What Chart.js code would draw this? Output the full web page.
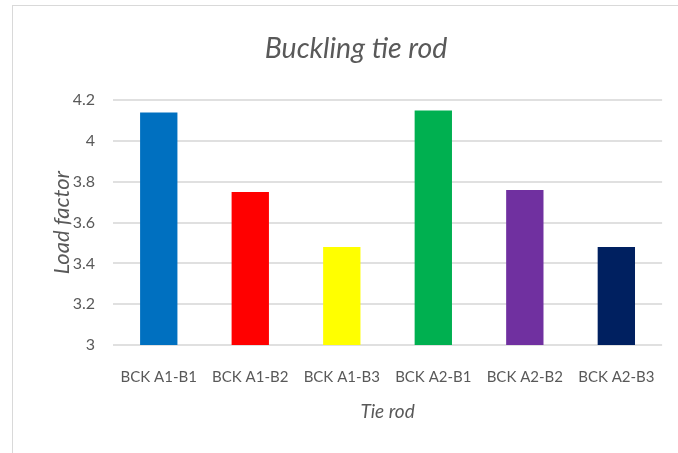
<!DOCTYPE html>
<html>
<head>
<meta charset="utf-8">
<script src="https://cdn.jsdelivr.net/npm/chart.js@4.4.1/dist/chart.umd.min.js"></script>
<style>
  html, body { margin: 0; padding: 0; background: #fff; overflow: hidden; }
  #wrap { position: relative; width: 678px; height: 453px; overflow: hidden; }
  #frame { position: absolute; left: 12px; top: 5px; right: -2px; bottom: -2px;
           border-top: 1.5px solid #d9d9d9; border-left: 1.5px solid #d9d9d9; }
  canvas { position: absolute; left: 0; top: 0; }
</style>
</head>
<body>
<div id="wrap">
  <div id="frame"></div>
  <canvas id="buckling" width="678" height="453"></canvas>
</div>
<script>
const categories = ['BCK A1-B1', 'BCK A1-B2', 'BCK A1-B3', 'BCK A2-B1', 'BCK A2-B2', 'BCK A2-B3'];
const loadFactor = [4.14, 3.75, 3.48, 4.15, 3.76, 3.48];
const yTickLabels = ['3', '3.2', '3.4', '3.6', '3.8', '4', '4.2'];

const barColors = ['#0070C0', '#FF0000', '#FFFF00', '#00B050', '#7030A0', '#002060'];
const textGray = '#595959';

Chart.defaults.font.family = 'Lato, "Open Sans", sans-serif';
Chart.defaults.color = textGray;

const ctx = document.getElementById('buckling');
new Chart(ctx, {
  type: 'bar',
  data: {
    labels: categories,
    datasets: [{
      label: 'Load factor',
      data: loadFactor,
      backgroundColor: barColors,
      borderWidth: 0,
      barPercentage: 0.68,
      categoryPercentage: 0.6
    }]
  },
  options: {
    responsive: false,
    animation: false,
    layout: {
      padding: { top: 32, left: 40, right: 6, bottom: 30 }
    },
    plugins: {
      legend: { display: false },
      tooltip: { enabled: false },
      title: {
        display: true,
        text: 'Buckling tie rod',
        color: textGray,
        font: { size: 28.5, style: 'italic', weight: 'normal' },
        padding: { top: 0, bottom: 34 }
      }
    },
    scales: {
      x: {
        grid: { display: false, drawTicks: false },
        border: { display: false },
        ticks: {
          color: textGray,
          font: { size: 15 },
          padding: 23,
          maxRotation: 0
        },
        title: {
          display: true,
          text: 'Tie rod',
          color: textGray,
          font: { size: 19, style: 'italic' },
          padding: 0
        },
        // fixed band below the bars for tick labels and axis title
        afterFit: (scale) => { scale.height = 78; }
      },
      y: {
        min: 3,
        max: 4.2,
        grid: { color: '#e0e0e0', lineWidth: 2, drawTicks: false },
        border: { display: false },
        ticks: {
          stepSize: 0.2,
          color: textGray,
          font: { size: 16 },
          padding: 18,
          callback: (value, index) => yTickLabels[index]
        },
        title: {
          display: true,
          text: 'Load factor',
          color: textGray,
          font: { size: 22, style: 'italic' },
          padding: { top: 9, bottom: 0 }
        },
        afterFit: (scale) => { scale.width = 73; }
      }
    }
  }
});
</script>
</body>
</html>
